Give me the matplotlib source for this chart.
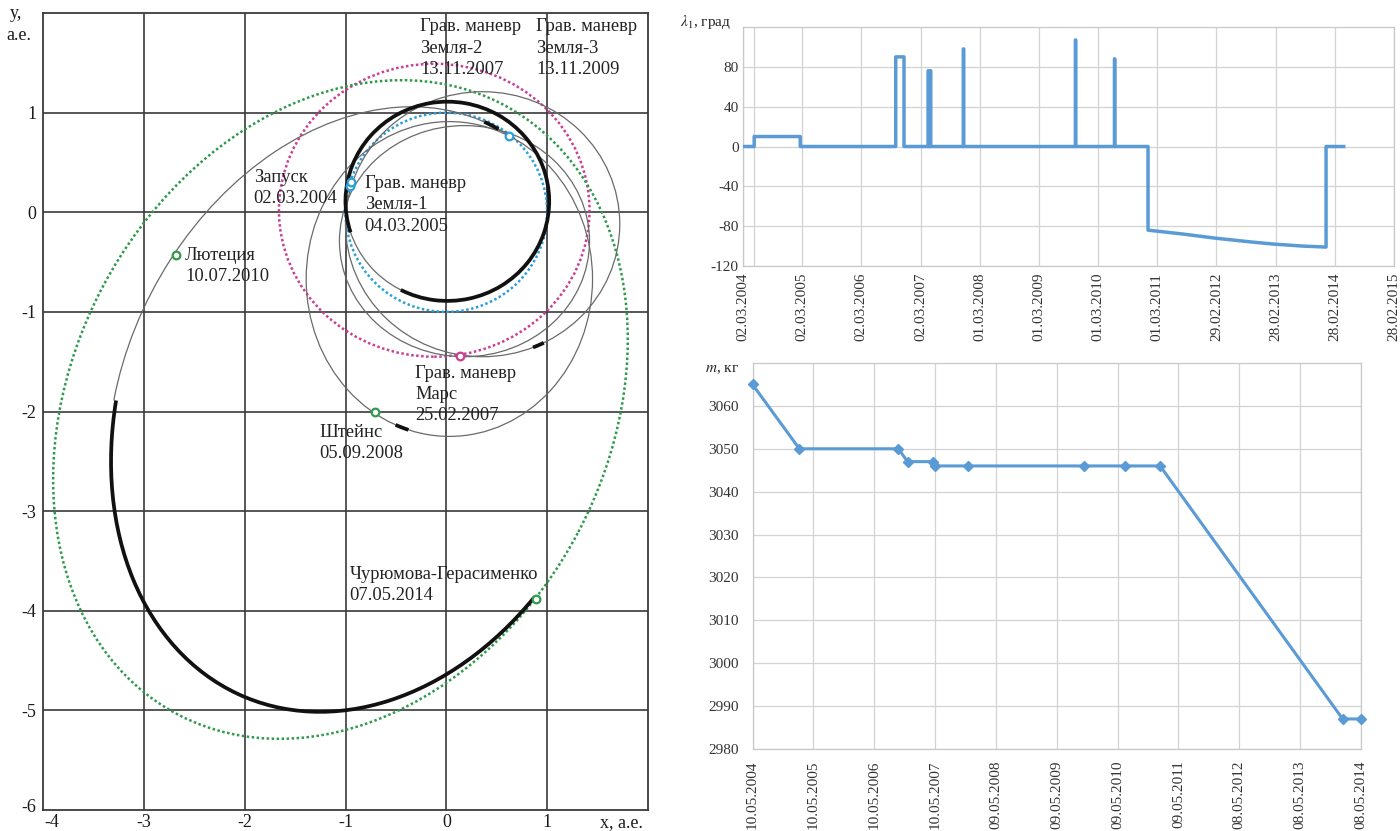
import numpy as np
import pandas as pd
import matplotlib
matplotlib.use("Agg")
import matplotlib.pyplot as plt
import matplotlib.dates as mdates
import matplotlib.transforms as mtransforms
from matplotlib.patches import Ellipse, Arc

plt.rcParams['font.family'] = ['Liberation Serif', 'DejaVu Serif']
plt.rcParams['mathtext.fontset'] = 'stix'
plt.rcParams['axes.unicode_minus'] = False

# ================= DATA: trajectory plot (AU) =================
# reference orbits: centre x, centre y, full width, full height, tilt (deg)
earth_orbit = [0.0, 0.0, 2.0, 2.0, 0.0]
mars_orbit = [-0.12, 0.02, 3.08, 2.94, 0.0]
comet_orbit = [-1.05, -1.98, 6.92, 5.32, 62.5]

# Rosetta trajectory ellipses drawn in full (thin)
orbit_cx = [0.01, 0.36, 0.18, 0.03]
orbit_cy = [0.11, -0.12, -0.29, -0.67]
orbit_w = [2.02, 2.72, 2.48, 2.84]
orbit_h = [2.00, 2.66, 2.32, 3.16]

# partial arcs of the trajectory (thrust arcs are thick)
arc_cx = [-0.937, -0.775, 0.01, 0.36, 0.03, -0.937]
arc_cy = [-1.823, -1.92, 0.11, -0.12, -0.67, -1.823]
arc_w = [6.06, 6.38, 2.02, 2.72, 2.84, 6.06]
arc_h = [4.466, 4.86, 2.00, 2.66, 3.16, 4.466]
arc_tilt = [-117.2, -112.0, 0.0, 0.0, 0.0, -117.2]
arc_t1 = [176.2, 291.3, 242.6, 292.0, 250.0, 178.5]
arc_t2 = [298.8, 62.2, 198.0, 297.0, 255.0, 181.5]
arc_thrust = [False, True, True, True, True, True]

# events
event_x = [-0.955, -0.945, 0.62, 0.134, -0.712, -2.685, 0.894]
event_y = [0.26, 0.30, 0.77, -1.443, -2.0, -0.43, -3.88]
event_body = ['earth', 'earth', 'earth', 'mars', 'small', 'small', 'small']

event_labels = [
    "Запуск\n02.03.2004",
    "Грав. маневр\nЗемля-1\n04.03.2005",
    "Грав. маневр\nЗемля-2\n13.11.2007",
    "Грав. маневр\nЗемля-3\n13.11.2009",
    "Грав. маневр\nМарс\n25.02.2007",
    "Штейнс\n05.09.2008",
    "Лютеция\n10.07.2010",
    "Чурюмова-Герасименко\n07.05.2014",
]
label_pos = [(-1.91, 0.431), (-0.81, 0.371), (-0.26, 1.946), (0.89, 1.946),
             (-0.31, -1.535), (-1.26, -2.126), (-2.59, -0.351), (-0.96, -3.551)]

orbit_xticks = [-4, -3, -2, -1, 0, 1]
orbit_yticks = [-6, -5, -4, -3, -2, -1, 0, 1]

# ================= DATA: lambda_1 chart =================
lam_dates = ['2004-03-02', '2004-05-10', '2004-05-10', '2005-02-18', '2005-02-18',
             '2006-09-30', '2006-09-30', '2006-11-20', '2006-11-20',
             '2007-04-18', '2007-04-18', '2007-04-21', '2007-04-21',
             '2007-05-01', '2007-05-01', '2007-05-04', '2007-05-04',
             '2007-11-21', '2007-11-21', '2007-11-23', '2007-11-23',
             '2009-10-12', '2009-10-12', '2009-10-14', '2009-10-14',
             '2010-06-10', '2010-06-10', '2010-06-12', '2010-06-12',
             '2011-01-03', '2011-01-03', '2011-08-11', '2012-02-19', '2012-10-08',
             '2013-02-15', '2013-08-14', '2014-01-05', '2014-01-05', '2014-04-24']
lam_vals = [0, 0, 10, 10, 0,
            0, 90, 90, 0,
            0, 76, 76, 0,
            0, 76, 76, 0,
            0, 98, 98, 0,
            0, 107, 107, 0,
            0, 88, 88, 0,
            0, -84, -88, -92, -96,
            -98, -100, -101, 0, 0]
lam_ticks = ['2004-03-02', '2005-03-02', '2006-03-02', '2007-03-02', '2008-03-01',
             '2009-03-01', '2010-03-01', '2011-03-01', '2012-02-29', '2013-02-28',
             '2014-02-28', '2015-02-28']
lam_yticks = [-120, -80, -40, 0, 40, 80]

# ================= DATA: mass chart =================
mass_dates = ['2004-05-10', '2005-02-15', '2006-10-02', '2006-11-26', '2007-04-29',
              '2007-05-10', '2007-11-26', '2009-10-22', '2010-06-21', '2011-01-19',
              '2014-01-18', '2014-05-08']
mass_vals = [3065, 3050, 3050, 3047, 3047, 3046, 3046, 3046, 3046, 3046, 2987, 2987]
mass_ticks = ['2004-05-10', '2005-05-10', '2006-05-10', '2007-05-10', '2008-05-09',
              '2009-05-09', '2010-05-09', '2011-05-09', '2012-05-08', '2013-05-08',
              '2014-05-08']
mass_yticks = [2980, 2990, 3000, 3010, 3020, 3030, 3040, 3050, 3060]

# ================= drawing =================
W, H = 1400, 831
fig = plt.figure(figsize=(14, 8.31), dpi=100)


def rect(l, t, r, b):
    return [l / W, 1 - b / H, (r - l) / W, (b - t) / H]


def dnum(lst):
    return mdates.date2num(pd.to_datetime(lst).to_pydatetime())


# ---------- trajectory ----------
ax = fig.add_axes(rect(43, 13, 648, 810))
ax.set_xlim(-4, 2)
ax.set_ylim(-6, 2)
grid_c = '#3a3a3a'
for v in orbit_xticks[1:]:
    ax.axvline(v, color=grid_c, lw=1.2, zorder=0)
for v in orbit_yticks[1:]:
    ax.axhline(v, color=grid_c, lw=1.2, zorder=0)
for s in ax.spines.values():
    s.set_color(grid_c)
    s.set_linewidth(1.3)
ax.set_xticks(orbit_xticks)
ax.set_xticklabels([str(v) for v in orbit_xticks])
ax.set_yticks(orbit_yticks)
ax.set_yticklabels([str(v) for v in orbit_yticks])
ax.tick_params(length=0, labelsize=13, colors='#1a1a1a')
ax.tick_params(axis='x', pad=3)
ax.tick_params(axis='y', pad=5)
# nudge the corner labels apart as in the original
lab_x0 = ax.get_xticklabels()[0]
lab_x0.set_transform(lab_x0.get_transform() +
                     mtransforms.ScaledTranslation(9 / 100, 0, fig.dpi_scale_trans))
lab_y0 = ax.get_yticklabels()[0]
lab_y0.set_transform(lab_y0.get_transform() +
                     mtransforms.ScaledTranslation(0, 5 / 100, fig.dpi_scale_trans))

earth_c = '#2b9fd9'
mars_c = '#cc3d94'
comet_c = '#2f9a4c'
thin_c = '#6a6a6a'
dots = (0, (1.0, 1.0))

for prm, col in [(earth_orbit, earth_c), (mars_orbit, mars_c), (comet_orbit, comet_c)]:
    ax.add_patch(Ellipse((prm[0], prm[1]), prm[2], prm[3], angle=prm[4], fill=False,
                         ec=col, lw=1.8, ls=dots, zorder=2))

for cx, cy, w, h in zip(orbit_cx, orbit_cy, orbit_w, orbit_h):
    ax.add_patch(Ellipse((cx, cy), w, h, fill=False, ec=thin_c, lw=0.9, zorder=3))

for cx, cy, w, h, tl, t1, t2, th in zip(arc_cx, arc_cy, arc_w, arc_h, arc_tilt,
                                          arc_t1, arc_t2, arc_thrust):
    ax.add_patch(Arc((cx, cy), w, h, angle=tl, theta1=t1, theta2=t2,
                     ec='#111111' if th else thin_c, lw=2.7 if th else 0.9,
                     zorder=4 if th else 3))

body_col = {'earth': earth_c, 'mars': mars_c, 'small': comet_c}
for x, y, b in zip(event_x, event_y, event_body):
    ax.plot([x], [y], 'o', ms=5.5, mfc='white', mec=body_col[b], mew=1.6, zorder=6)

for txt, (lx, ly) in zip(event_labels, label_pos):
    ax.text(lx, ly, txt, fontsize=13.3, ha='left', va='top', linespacing=1.32,
            color='#222222', zorder=7)

fig.text(10 / W, 1 - 14 / H, "y,", fontsize=13, ha='left', va='center', color='#1a1a1a')
fig.text(6 / W, 1 - 36 / H, "а.е.", fontsize=13, ha='left', va='center', color='#1a1a1a')
fig.text(600 / W, 1 - 823 / H, "x, а.е.", fontsize=13, ha='left', va='center', color='#1a1a1a')

# ---------- lambda_1 ----------
line_c = '#5b9bd5'
light = '#d3d3d3'
ax2 = fig.add_axes(rect(743, 27, 1394, 266))
lt = dnum(lam_ticks)
ax2.set_xlim(lt[0], lt[-1])
ax2.set_ylim(-120, 120)
ax2.set_xticks(lt)
ax2.set_xticklabels(pd.to_datetime(lam_ticks).strftime('%d.%m.%Y'), rotation=90)
ax2.set_yticks(lam_yticks)
ax2.set_yticklabels([str(v) for v in lam_yticks])
ax2.grid(True, color=light, lw=0.9)
ax2.axvline(dnum(['2004-05-10'])[0], color=light, lw=0.9)
ax2.set_axisbelow(True)
for s in ax2.spines.values():
    s.set_color('#c8c8c8')
    s.set_linewidth(0.9)
ax2.tick_params(length=0, labelsize=11, colors='#333333')
ax2.tick_params(axis='y', pad=3)
ax2.tick_params(axis='x', pad=5)
ax2.plot(dnum(lam_dates), lam_vals, color=line_c, lw=2.5, zorder=3)
fig.text(680 / W, 1 - 22 / H, r"$\lambda_1$, град", fontsize=11, ha='left', va='center',
         color='#222222')

# ---------- mass ----------
ax3 = fig.add_axes(rect(752.5, 363, 1361, 749))
mt = dnum(mass_ticks)
ax3.set_xlim(mt[0], mt[-1])
ax3.set_ylim(2980, 3070)
ax3.set_xticks(mt)
ax3.set_xticklabels(pd.to_datetime(mass_ticks).strftime('%d.%m.%Y'), rotation=90)
ax3.set_yticks(mass_yticks)
ax3.set_yticklabels([str(v) for v in mass_yticks])
ax3.grid(True, color=light, lw=0.9)
ax3.set_axisbelow(True)
for s in ax3.spines.values():
    s.set_color('#c8c8c8')
    s.set_linewidth(0.9)
ax3.tick_params(length=0, labelsize=11, colors='#333333')
ax3.tick_params(axis='y', pad=10)
ax3.tick_params(axis='x', pad=8)
ax3.plot(dnum(mass_dates), mass_vals, color=line_c, lw=2.2, marker='D', ms=5.5,
         zorder=3, clip_on=False)
fig.text(705 / W, 1 - 370 / H, r"$m$, кг", fontsize=11, ha='left', va='center',
         color='#222222')

fig.savefig("out.png", dpi=100)
